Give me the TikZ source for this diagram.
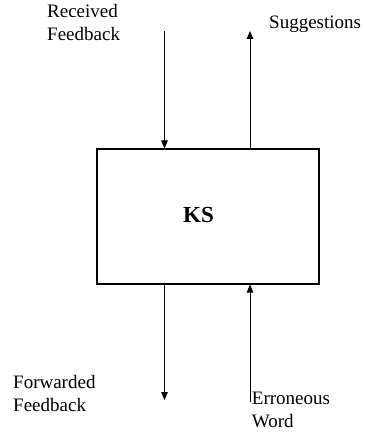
\documentclass[tikz,border=0pt]{standalone}
\usepackage{fontspec}
\setmainfont{Liberation Serif}
\usetikzlibrary{arrows.meta}
\begin{document}
\begin{tikzpicture}[x=1pt,y=-1pt,
  lbl/.style={anchor=base west,inner sep=0pt,align=left,font=\fontsize{19}{23}\selectfont},
  flow/.style={line width=1pt,-{Triangle[length=8pt,width=6.5pt]}},
  ksbox/.style={draw,line width=2pt,minimum width=222pt,minimum height=134pt,inner sep=0pt}]
\useasboundingbox (0,0) rectangle (364,435);
\node[ksbox] (ks) at (207.8,216.5) {};
\node[anchor=base west,inner sep=0pt,font=\fontsize{23}{27}\selectfont\bfseries] (kst) at (183,222.7) {KS};
\coordinate (rf) at (164.5,31);
\coordinate (sg) at (250,31);
\coordinate (ff) at (164.5,400);
\coordinate (ew) at (250,402);
\node[lbl] (rfl) at (47,40.7) {Received\\Feedback};
\node[lbl] (sgl) at (269,28.3) {Suggestions};
\node[lbl] (ffl) at (13,411.7) {Forwarded\\Feedback};
\node[lbl] (ewl) at (251.7,427.7) {Erroneous\\Word};
\draw[flow] (rf) -- (rf |- ks.north);
\draw[flow] (sg |- ks.north) -- (sg);
\draw[flow] (ff |- ks.south) -- (ff);
\draw[flow] (ew) -- (ew |- ks.south);
\end{tikzpicture}
\end{document}
